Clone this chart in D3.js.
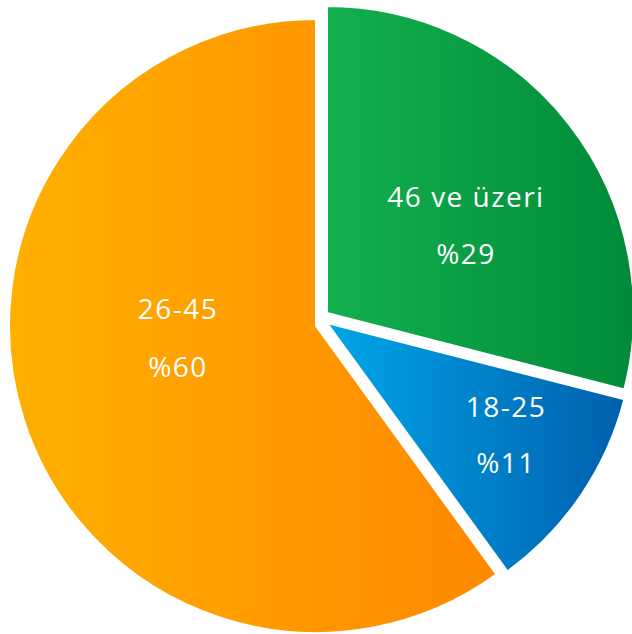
<!DOCTYPE html>
<html>
<head>
<meta charset="utf-8">
<script src="https://cdn.jsdelivr.net/npm/d3@7"></script>
<style>
  html, body { margin: 0; padding: 0; background: #fff; }
  svg { display: block; }
  .lbl { font-family: "Open Sans", "Noto Sans", sans-serif; font-size: 28px; letter-spacing: 1.5px; fill: #fff; text-anchor: middle; }
</style>
</head>
<body>
<svg id="chart" width="632" height="634"></svg>
<script>
// Age groups and their shares
const categories = ["46 ve üzeri", "18-25", "26-45"];
const values = [29, 11, 60];
const percentLabels = ["%29", "%11", "%60"];

// Gradient stops per slice (left -> right)
const gradientColors = [
  ["#13b04e", "#008a39"],
  ["#00a6e8", "#005fad"],
  ["#ffb000", "#ff8800"]
];

// Layout
const width = 632, height = 634;
const cx = 316, cy = 326, radius = 307;
const sliceShift = [[11, -13], [11, -3], [0, 0]];
const labelPos = [[466, 207, 264], [506, 417, 473], [178, 319, 377]];

const svg = d3.select("#chart");
const defs = svg.append("defs");

gradientColors.forEach((c, i) => {
  const g = defs.append("linearGradient")
    .attr("id", "grad" + i)
    .attr("x1", "0%").attr("y1", "0%")
    .attr("x2", "100%").attr("y2", "0%");
  g.append("stop").attr("offset", "0%").attr("stop-color", c[0]);
  g.append("stop").attr("offset", "100%").attr("stop-color", c[1]);
});

const pie = d3.pie().sort(null).value(d => d).startAngle(0).endAngle(2 * Math.PI);
const arc = d3.arc().innerRadius(0).outerRadius(radius);
const arcs = pie(values);

const slices = svg.selectAll("g.slice")
  .data(arcs)
  .join("g")
  .attr("class", "slice")
  .attr("transform", (d, i) => `translate(${cx + sliceShift[i][0]},${cy + sliceShift[i][1]})`);

slices.append("path")
  .attr("d", arc)
  .attr("fill", (d, i) => `url(#grad${i})`)
  .attr("stroke", "#fff")
  .attr("stroke-width", 2)
  .attr("stroke-linejoin", "miter");

// Category and percentage labels
arcs.forEach((d, i) => {
  svg.append("text").attr("class", "lbl")
    .attr("x", labelPos[i][0]).attr("y", labelPos[i][1])
    .text(categories[i]);
  svg.append("text").attr("class", "lbl")
    .attr("x", labelPos[i][0]).attr("y", labelPos[i][2])
    .text(percentLabels[i]);
});
</script>
</body>
</html>
